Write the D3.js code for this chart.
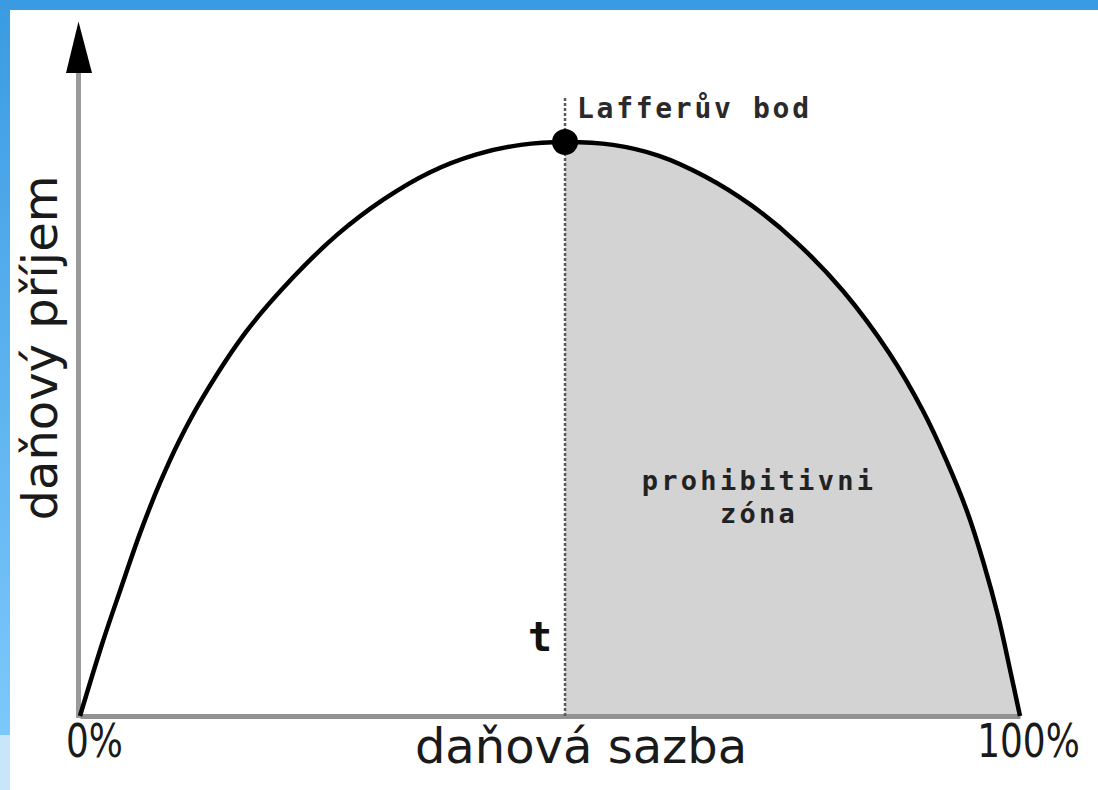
<!DOCTYPE html>
<html>
<head>
<meta charset="utf-8">
<script src="https://cdn.jsdelivr.net/npm/d3@7"></script>
<style>
  html, body { margin: 0; padding: 0; background: #fff; }
  svg { display: block; }
</style>
</head>
<body>
<div id="chart"></div>
<script>
// Lafferova krivka (sazba v %, prijem v % maxima)
var taxRate = [0, 2.4, 4.3, 6.4, 8.5, 10.6, 13.1, 17.7, 22.6, 27.4, 32.3, 37.2, 42.1, 46.9, 51.6,
               56.7, 61.6, 66.5, 71.4, 76.3, 81.2, 86.1, 89.7, 92.2, 94.4, 96.1, 97.7, 99.0, 100];
var revenue = [0, 12.8, 22.0, 31.9, 40.6, 48.1, 55.6, 67.0, 76.3, 83.9, 90.0, 94.7, 97.8, 99.5, 100,
               99.5, 97.6, 94.0, 89.0, 82.4, 74.0, 63.2, 53.1, 44.4, 35.5, 26.8, 17.2, 7.6, 0];
var xTicks = [0, 100];
var xTickLabels = ["0%", "100%"];
var xTitle = "daňová sazba";
var yTitle = "daňový příjem";
var pointLabel = "Lafferův bod";
var zoneLabel = ["prohibitivni", "zóna"];
var rateLabel = "t";

var width = 1098, height = 790;

var svg = d3.select("#chart").append("svg")
    .attr("width", width)
    .attr("height", height);

var defs = svg.append("defs");

var grad = defs.append("linearGradient")
    .attr("id", "sideBlue")
    .attr("x1", 0).attr("y1", 0).attr("x2", 0).attr("y2", 1);
grad.append("stop").attr("offset", "0%").attr("stop-color", "#3a9be2");
grad.append("stop").attr("offset", "93%").attr("stop-color", "#7dc8fb");
grad.append("stop").attr("offset", "93%").attr("stop-color", "#c8e6fa");
grad.append("stop").attr("offset", "100%").attr("stop-color", "#c8e6fa");

// modry ramecek nahore a vlevo
svg.append("rect").attr("x", 0).attr("y", 0).attr("width", 10).attr("height", height)
    .style("fill", "url(#sideBlue)");
svg.append("rect").attr("x", 0).attr("y", 0).attr("width", width).attr("height", 10)
    .style("fill", "#3a9be2");

var x = d3.scaleLinear().domain([0, 100]).range([80, 1020]);
var y = d3.scaleLinear().domain([0, 100]).range([716, 142]);

var data = taxRate.map(function(d, i) { return {rate: d, rev: revenue[i]}; });
var peak = data[d3.maxIndex(data, function(d) { return d.rev; })];

var curve = d3.curveCatmullRom.alpha(0.5);

// prohibitivni zona (sede vyplneni vpravo od Lafferova bodu)
defs.append("clipPath").attr("id", "zoneClip")
    .append("rect")
    .attr("x", x(peak.rate))
    .attr("y", 0)
    .attr("width", width - x(peak.rate))
    .attr("height", height);

var area = d3.area()
    .x(function(d) { return x(d.rate); })
    .y0(y(0))
    .y1(function(d) { return y(d.rev); })
    .curve(curve);

svg.append("path")
    .datum(data)
    .attr("d", area)
    .attr("clip-path", "url(#zoneClip)")
    .style("fill", "#d3d3d3");

// osa x
var xAxis = d3.axisBottom(x)
    .tickValues(xTicks)
    .tickSize(0)
    .tickSizeOuter(0)
    .tickPadding(10)
    .tickFormat(function(d, i) { return xTickLabels[i]; });

var labelSqueeze = 0.78;

var gx = svg.append("g")
    .attr("transform", "translate(0," + y(0) + ")")
    .call(xAxis);
gx.select(".domain")
    .style("stroke", "#929292")
    .style("stroke-width", 5);
gx.selectAll(".tick text")
    .attr("transform", "scale(" + labelSqueeze + ",1)")
    .attr("x", function(d, i) { return (i === 0 ? 14 : 8) / labelSqueeze; })
    .attr("y", 41)
    .attr("dy", 0)
    .style("font-family", "DejaVu Sans")
    .style("font-size", "46px")
    .style("fill", "#1a1a1a");

// osa y se sipkou
var yAxisTop = 112;
svg.append("line")
    .attr("x1", x(0) - 1.5).attr("x2", x(0) - 1.5)
    .attr("y1", y(0) + 2).attr("y2", y(yAxisTop))
    .style("stroke", "#9a9a9a")
    .style("stroke-width", 5);

svg.append("path")
    .attr("d", d3.line()([
        [x(0) - 14, y(yAxisTop)],
        [x(0) - 1.5, y(121)],
        [x(0) + 12, y(yAxisTop)]
    ]) + "Z")
    .style("fill", "#000");

// svisla teckovana cara od Lafferova bodu
svg.append("line")
    .attr("x1", x(peak.rate)).attr("x2", x(peak.rate))
    .attr("y1", y(0)).attr("y2", y(108))
    .style("stroke", "#5a5a5a")
    .style("stroke-width", 2.5)
    .style("stroke-dasharray", "3,2");

// krivka
var line = d3.line()
    .x(function(d) { return x(d.rate); })
    .y(function(d) { return y(d.rev); })
    .curve(curve);

svg.append("path")
    .datum(data)
    .attr("d", line)
    .style("fill", "none")
    .style("stroke", "#000")
    .style("stroke-width", 4.5)
    .style("stroke-linejoin", "round");

svg.append("circle")
    .attr("cx", x(peak.rate))
    .attr("cy", y(peak.rev))
    .attr("r", 13)
    .style("fill", "#000");

// popisky
var mono = "DejaVu Sans Mono";

svg.append("text")
    .attr("x", x(peak.rate) + 12)
    .attr("y", 118)
    .text(pointLabel)
    .style("font-family", mono)
    .style("font-size", "28px")
    .style("font-weight", "bold")
    .style("letter-spacing", "2.7px")
    .style("fill", "#2a2a2a");

svg.append("g").selectAll("text")
    .data(zoneLabel)
    .enter()
    .append("text")
    .attr("x", 759)
    .attr("y", function(d, i) { return 490 + i * 33; })
    .attr("text-anchor", "middle")
    .text(function(d) { return d; })
    .style("font-family", mono)
    .style("font-size", "27px")
    .style("font-weight", "bold")
    .style("letter-spacing", "3.3px")
    .style("fill", "#222");

svg.append("text")
    .attr("x", x(peak.rate) - 25)
    .attr("y", 651)
    .attr("text-anchor", "middle")
    .text(rateLabel)
    .style("font-family", mono)
    .style("font-size", "40px")
    .style("font-weight", "bold")
    .style("fill", "#111");

svg.append("text")
    .attr("x", 581)
    .attr("y", 763)
    .attr("text-anchor", "middle")
    .text(xTitle)
    .style("font-family", "DejaVu Sans")
    .style("font-size", "48px")
    .style("fill", "#1a1a1a");

svg.append("text")
    .attr("transform", "translate(57,348) rotate(-90)")
    .attr("text-anchor", "middle")
    .text(yTitle)
    .style("font-family", "DejaVu Sans")
    .style("font-size", "48px")
    .style("fill", "#1a1a1a");
</script>
</body>
</html>
